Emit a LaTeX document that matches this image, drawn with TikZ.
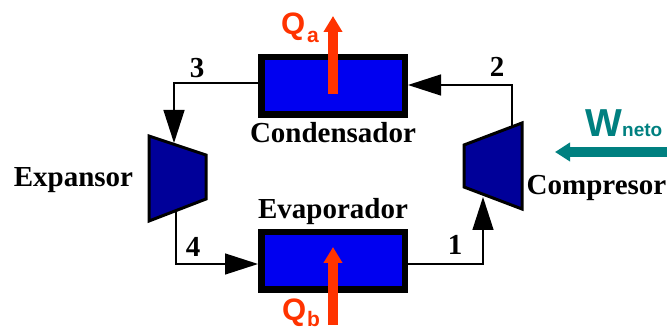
\documentclass[tikz,border=0pt]{standalone}
\usepackage{fontspec}
\setmainfont{Liberation Serif}
\newfontfamily\qfont{Liberation Sans}
\usetikzlibrary{arrows.meta}
\definecolor{qred}{HTML}{FF3300}
\definecolor{wteal}{HTML}{008080}
\definecolor{boxblue}{HTML}{0000F0}
\definecolor{turbblue}{HTML}{000099}
\tikzset{
  exchanger/.style={draw=black,fill=boxblue,line width=6.5pt,minimum width=143.5pt,minimum height=57.5pt,inner sep=0pt,outer sep=0pt},
  machine/.style={draw=black,fill=turbblue,line width=3pt,line join=miter},
  pipe/.style={draw=black,line width=1.4pt,line join=miter,-{Triangle[length=33pt,width=21pt]}},
  heat/.style={draw=qred,line width=10pt,-{Triangle[length=16pt,width=18pt,color=qred]}},
  work/.style={draw=wteal,line width=10pt,-{Triangle[length=15pt,width=18pt,color=wteal]}},
  lbl/.style={font=\bfseries\fontsize{29}{29}\selectfont,text=black,inner sep=0pt,anchor=base},
  qbig/.style={font=\qfont\bfseries\fontsize{31}{31}\selectfont,text=qred,inner sep=0pt,anchor=base west},
  qsub/.style={font=\qfont\bfseries\fontsize{21}{21}\selectfont,text=qred,inner sep=0pt,anchor=base west},
}
\begin{document}
\begin{tikzpicture}[x=1pt,y=-1pt]
\useasboundingbox (0,0) rectangle (667,331);
% equipment
\node[exchanger] (cond) at (333,86) {};
\node[exchanger] (evap) at (333,261) {};
\coordinate (ea) at (149,136); \coordinate (eb) at (206,155);
\coordinate (ec) at (206,199); \coordinate (ed) at (149,221);
\draw[machine] (ea) -- (eb) -- (ec) -- (ed) -- cycle;
\coordinate (ca) at (522,123); \coordinate (cb) at (464,145);
\coordinate (cc) at (464,187); \coordinate (cd) at (522,209);
\draw[machine] (ca) -- (cb) -- (cc) -- (cd) -- cycle;
% connection points
\coordinate (c3out) at (258,83);
\coordinate (e3in) at (174,143);
\coordinate (e4out) at (176,211);
\coordinate (evin) at (258,264);
\coordinate (evout) at (408,264);
\coordinate (c1in) at (483,197);
\coordinate (c2out) at (512,127);
\coordinate (cdin) at (408,85);
% connectors
\draw[pipe] (c3out) -| (e3in);
\draw[pipe] (e4out) |- (evin);
\draw[pipe] (evout) -| (c1in);
\draw[pipe] (c2out) |- (cdin);
% energy flows
\coordinate (qat) at (333,94); \coordinate (qah) at (333,16);
\coordinate (qbt) at (333,325); \coordinate (qbh) at (333,247);
\coordinate (wt) at (667,152); \coordinate (wh) at (555,152);
\draw[heat] (qat) -- (qah);
\draw[heat] (qbt) -- (qbh);
\draw[work] (wt) -- (wh);
% labels
\node[lbl] (lcond) at (333,143) {Condensador};
\node[lbl] (levap) at (333,219) {Evaporador};
\node[lbl] (lexp) at (73.5,187) {Expansor};
\node[lbl] (lcomp) at (596.5,195) {Compresor};
\node[lbl] (n1) at (455,255) {1};
\node[lbl] (n2) at (497,77) {2};
\node[lbl] (n3) at (197,78) {3};
\node[lbl] (n4) at (193,257) {4};
\node[qbig] (qa) at (281,35) {Q};
\node[qsub] (qas) at (307,43) {a};
\node[qbig] (qb) at (282,320) {Q};
\node[qsub] (qbs) at (307,326) {b};
\node[font=\qfont\bfseries\fontsize{39}{39}\selectfont,text=wteal,inner sep=0pt,anchor=base west] (w) at (585,137) {W};
\node[font=\qfont\bfseries\fontsize{19}{19}\selectfont,text=wteal,inner sep=0pt,anchor=base west] (wn) at (622,137) {neto};
\end{tikzpicture}
\end{document}
